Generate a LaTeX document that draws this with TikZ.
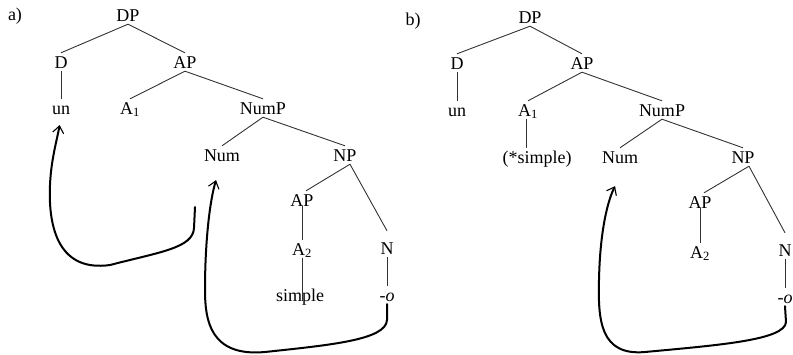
\documentclass[tikz,border=0pt]{standalone}
\usepackage{fontspec}
\setmainfont{Liberation Serif}
\usetikzlibrary{arrows.meta}
\begin{document}
\begin{tikzpicture}[x=1pt,y=-1pt,
  lab/.style={font=\fontsize{18}{20}\selectfont, text height=12pt, text depth=0pt, inner xsep=1pt, inner ysep=3pt},
  branch/.style={draw=black!80, line width=0.9pt},
  move/.style={draw=black, line width=2pt, line cap=round, -{Straight Barb[length=7pt,width=11pt,line width=1.1pt]}}]
\useasboundingbox (0,0) rectangle (793,354);
% panel a
\node[lab] (la) at (15,14) {a)};
\node[lab] (aDP) at (128,15) {DP};
\node[lab] (aD) at (61,62) {D};
\node[lab] (aAP) at (185,62) {AP};
\node[lab] (aun) at (61,108) {un};
\node[lab] (aA1) at (130,108) {A\textsubscript{1}};
\node[lab] (aNumP) at (263,108) {NumP};
\node[lab] (aNum) at (222,155) {Num};
\node[lab] (aNP) at (345,155) {NP};
\node[lab] (aAP2) at (302,200) {AP};
\node[lab] (aA2) at (302,249) {A\textsubscript{2}};
\node[lab] (asimple) at (300,295) {simple};
\node[lab] (aN) at (387,248) {N};
\node[lab] (ao) at (387,295) {-\textit{o}};
\draw[branch] (aDP.south) -- (aD.north);
\draw[branch] (aDP.south) -- (aAP.north);
\draw[branch] (aD.south) -- (aun.north);
\draw[branch] (aAP.south) -- (aA1.north);
\draw[branch] (aAP.south) -- (aNumP.north);
\draw[branch] (aNumP.south) -- (aNum.north);
\draw[branch] (aNumP.south) -- (aNP.north);
\draw[branch] ([xshift=5pt]aNP.south) -- ([xshift=4pt]aAP2.north);
\draw[branch] ([xshift=5pt]aNP.south) -- ([yshift=8pt]aN.north);
\draw[branch] (aAP2.base) -- (aA2.north);
\draw[branch] (aA2.south) -- ([xshift=2pt]asimple.base);
\draw[branch] (aN.south) -- (ao.north);
\coordinate (s1) at (195,207);
\draw[move, shorten >=8pt] (s1) -- (194,228) .. controls (193,248) and (160,252) .. (110,265)
   .. controls (60,272) and (48,230) .. (50,185) .. controls (51,160) and (57,140) .. (aun.south);
\draw[move] (ao.south) -- (387,320) .. controls (386,340) and (330,345) .. (265,352)
   .. controls (210,357) and (205,320) .. (205,290) .. controls (205,240) and (210,200) .. ([shift={(-6pt,-16pt)}]aNum.south);
% panel b
\node[lab] (lb) at (413,19) {b)};
\node[lab] (bDP) at (530,17) {DP};
\node[lab] (bD) at (457,63) {D};
\node[lab] (bAP) at (582,63) {AP};
\node[lab] (bun) at (457,110) {un};
\node[lab] (bA1) at (528,110) {A\textsubscript{1}};
\node[lab] (bNumP) at (662,110) {NumP};
\node[lab] (bsimple) at (537,157) {(*simple)};
\node[lab] (bNum) at (620,157) {Num};
\node[lab] (bNP) at (743,157) {NP};
\node[lab] (bAP2) at (700,202) {AP};
\node[lab] (bA2) at (700,252) {A\textsubscript{2}};
\node[lab] (bN) at (785,250) {N};
\node[lab] (bo) at (785,297) {-\textit{o}};
\draw[branch] (bDP.south) -- (bD.north);
\draw[branch] (bDP.south) -- (bAP.north);
\draw[branch] (bD.south) -- (bun.north);
\draw[branch] (bAP.south) -- (bA1.north);
\draw[branch] (bAP.south) -- (bNumP.north);
\draw[branch] ([xshift=-2pt]bA1.south) -- ([xshift=-2pt]bA1.south |- bsimple.north);
\draw[branch] (bNumP.south) -- (bNum.north);
\draw[branch] (bNumP.south) -- (bNP.north);
\draw[branch] ([xshift=6pt]bNP.south) -- ([xshift=4pt]bAP2.north);
\draw[branch] ([xshift=6pt]bNP.south) -- ([yshift=8pt]bN.north);
\draw[branch] (bAP2.base) -- (bA2.north);
\draw[branch] (bN.south) -- (bo.north);
\draw[move] (bo.south) -- (786,322) .. controls (785,340) and (720,345) .. (645,352)
   .. controls (600,356) and (598,320) .. (599,280) .. controls (600,230) and (608,200) .. ([shift={(-5pt,-20pt)}]bNum.south);
\end{tikzpicture}
\end{document}
